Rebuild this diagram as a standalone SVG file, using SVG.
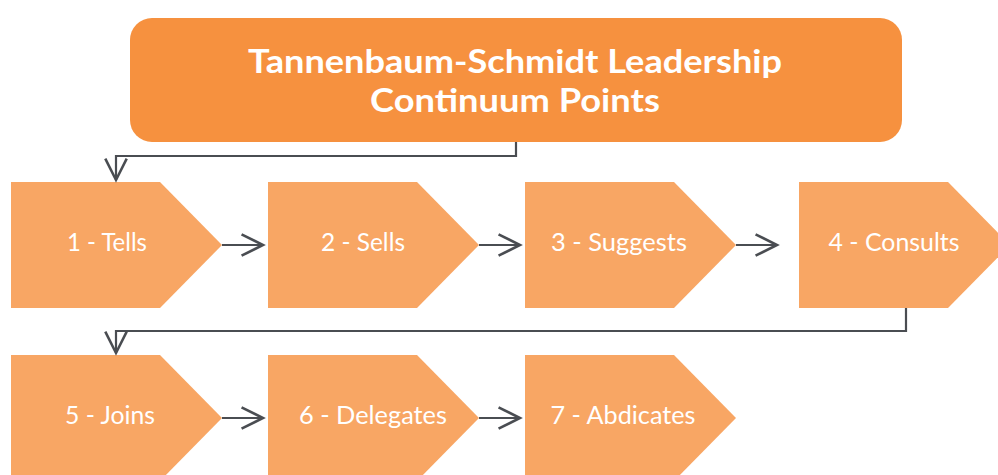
<svg xmlns="http://www.w3.org/2000/svg" width="998" height="475" viewBox="0 0 998 475">
<defs>
<style>
.node{fill:#F8A664;}
.lbl{fill:#ffffff;font-family:Lato,"Open Sans","Liberation Sans",sans-serif;font-size:25px;text-anchor:middle;}
.title{fill:#ffffff;font-family:Lato,"Open Sans","Liberation Sans",sans-serif;font-size:33px;font-weight:bold;text-anchor:middle;}
.conn{fill:none;stroke:#4A4D52;stroke-width:2.2;}
</style>
<marker id="arr" markerUnits="userSpaceOnUse" markerWidth="30" markerHeight="30" viewBox="-24 -12 28 24" refX="0" refY="0" orient="auto">
<path d="M-20,-10 L0,0 L-20,10" fill="none" stroke="#4A4D52" stroke-width="2.4"/>
</marker>
</defs>
<rect width="998" height="475" fill="#ffffff"/>
<g id="title">
<rect x="130" y="18" width="772" height="124" rx="22" fill="#F6913F"/>
<text class="title" x="515" y="73" textLength="534" lengthAdjust="spacingAndGlyphs">Tannenbaum-Schmidt Leadership</text>
<text class="title" x="515" y="112" textLength="290" lengthAdjust="spacingAndGlyphs">Continuum Points</text>
</g>
<g id="n1"><path class="node" d="M11,182 H160 L222,245 L160,308 H11 Z"/><text class="lbl" x="107" y="251" textLength="80" lengthAdjust="spacingAndGlyphs">1 - Tells</text></g>
<g id="n2"><path class="node" d="M268,182 H417 L479,245 L417,308 H268 Z"/><text class="lbl" x="363" y="251" textLength="84" lengthAdjust="spacingAndGlyphs">2 - Sells</text></g>
<g id="n3"><path class="node" d="M525,182 H674 L736,245 L674,308 H525 Z"/><text class="lbl" x="619" y="251" textLength="136" lengthAdjust="spacingAndGlyphs">3 - Suggests</text></g>
<g id="n4"><path class="node" d="M799,182 H948 L1010,245 L948,308 H799 Z"/><text class="lbl" x="894" y="251" textLength="131" lengthAdjust="spacingAndGlyphs">4 - Consults</text></g>
<g id="n5"><path class="node" d="M11,355 H160 L222,418 L160,481 H11 Z"/><text class="lbl" x="110" y="424" textLength="90" lengthAdjust="spacingAndGlyphs">5 - Joins</text></g>
<g id="n6"><path class="node" d="M268,355 H417 L479,418 L417,481 H268 Z"/><text class="lbl" x="373" y="424" textLength="148" lengthAdjust="spacingAndGlyphs">6 - Delegates</text></g>
<g id="n7"><path class="node" d="M525,355 H674 L736,418 L674,481 H525 Z"/><text class="lbl" x="623" y="424" textLength="145" lengthAdjust="spacingAndGlyphs">7 - Abdicates</text></g>
<g id="connectors">
<path class="conn" d="M516,142 V156 H116 V180" marker-end="url(#arr)"/>
<path class="conn" d="M222,245 H263" marker-end="url(#arr)"/>
<path class="conn" d="M479,245 H520" marker-end="url(#arr)"/>
<path class="conn" d="M736,245 H777" marker-end="url(#arr)"/>
<path class="conn" d="M906,308 V331 H116 V353" marker-end="url(#arr)"/>
<path class="conn" d="M222,418 H263" marker-end="url(#arr)"/>
<path class="conn" d="M479,418 H520" marker-end="url(#arr)"/>
</g>
</svg>
